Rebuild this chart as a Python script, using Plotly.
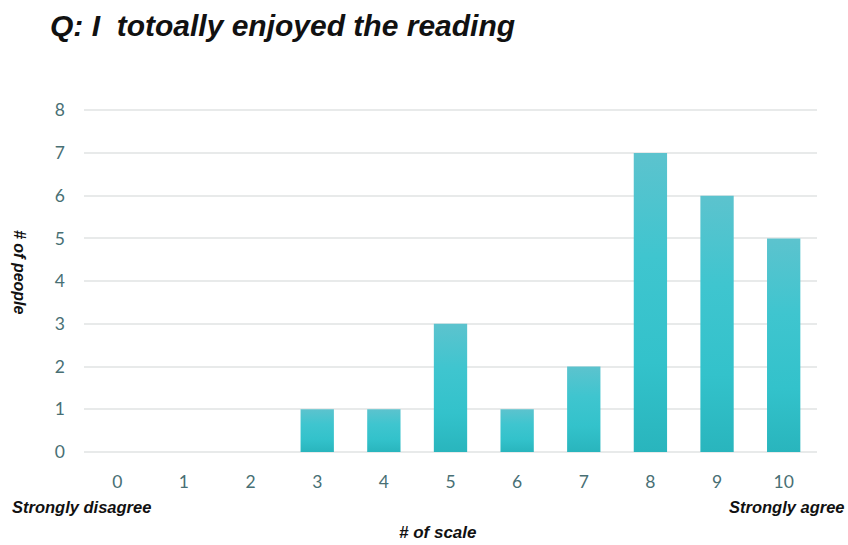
import plotly.graph_objects as go

# Survey responses: number of people choosing each point on the 0-10 scale
scale_points = [0, 1, 2, 3, 4, 5, 6, 7, 8, 9, 10]
people_counts = [0, 0, 0, 1, 1, 3, 1, 2, 7, 6, 5]
y_ticks = [0, 1, 2, 3, 4, 5, 6, 7, 8]

title_text = "Q: I  totoally enjoyed the reading"
y_title = "# of people"
x_title = "# of scale"
left_end_label = "Strongly disagree"
right_end_label = "Strongly agree"

tick_color = "#486F74"
label_font = "Liberation Sans, Arial"

fig = go.Figure(
    go.Bar(
        x=scale_points,
        y=people_counts,
        width=0.5,
        marker=dict(color="#38C1CA", line=dict(width=0)),
        hoverinfo="x+y",
    )
)

fig.update_layout(
    width=848,
    height=545,
    margin=dict(l=84, r=31, t=106, b=93),
    paper_bgcolor="white",
    plot_bgcolor="white",
    showlegend=False,
    title=dict(
        text=f"<b><i>{title_text}</i></b>",
        x=50 / 848,
        xanchor="left",
        y=1 - 25 / 545,
        yanchor="middle",
        font=dict(family="Liberation Sans, Arial", size=30, color="#111111"),
    ),
    xaxis=dict(
        tickmode="array",
        tickvals=scale_points,
        ticktext=[str(v) for v in scale_points],
        range=[-0.5, 10.5],
        showgrid=False,
        zeroline=False,
        showline=False,
        ticks="",
        ticklabelstandoff=17,
        tickfont=dict(family="Lato, Open Sans", size=17.5, color=tick_color),
    ),
    yaxis=dict(
        tickmode="array",
        tickvals=y_ticks,
        range=[0, 8.1],
        showgrid=True,
        gridcolor="#E8EAEA",
        gridwidth=2,
        zeroline=True,
        zerolinecolor="#E8EAEA",
        zerolinewidth=2,
        showline=False,
        ticks="",
        ticklabelstandoff=18,
        tickfont=dict(family="Lato, Open Sans", size=17.5, color=tick_color),
    ),
    annotations=[
        dict(
            text=f"<b><i>{y_title}</i></b>",
            xref="paper", yref="paper",
            x=(20 - 84) / 733, y=(452 - 272) / 346,
            xanchor="center", yanchor="middle",
            textangle=90,
            showarrow=False,
            font=dict(family=label_font, size=16, color="#111111"),
        ),
        dict(
            text=f"<b><i>{x_title}</i></b>",
            xref="paper", yref="paper",
            x=(438 - 84) / 733, y=-(532 - 452) / 346,
            xanchor="center", yanchor="middle",
            showarrow=False,
            font=dict(family=label_font, size=17, color="#111111"),
        ),
        dict(
            text=f"<b><i>{left_end_label}</i></b>",
            xref="paper", yref="paper",
            x=(10 - 84) / 733, y=-(507 - 452) / 346,
            xanchor="left", yanchor="middle",
            showarrow=False,
            font=dict(family=label_font, size=16.5, color="#111111"),
        ),
        dict(
            text=f"<b><i>{right_end_label}</i></b>",
            xref="paper", yref="paper",
            x=(847 - 84) / 733, y=-(507 - 452) / 346,
            xanchor="right", yanchor="middle",
            showarrow=False,
            font=dict(family=label_font, size=16.5, color="#111111"),
        ),
    ],
)

# Vertical teal gradient on each bar, applied to the rendered SVG
gradient_js = """
var gd = document.getElementById('{plot_id}');
var svg = gd.querySelector('svg.main-svg');
var ns = 'http://www.w3.org/2000/svg';
var defs = svg.querySelector('defs') || svg.insertBefore(document.createElementNS(ns, 'defs'), svg.firstChild);
var grad = document.createElementNS(ns, 'linearGradient');
grad.setAttribute('id', 'barGrad');
grad.setAttribute('x1', '0'); grad.setAttribute('y1', '0');
grad.setAttribute('x2', '0'); grad.setAttribute('y2', '1');
[['0', '#5CC3CE'], ['0.35', '#3FC5CF'], ['0.7', '#33C2CB'], ['1', '#29B5BD']].forEach(function (s) {
  var st = document.createElementNS(ns, 'stop');
  st.setAttribute('offset', s[0]);
  st.setAttribute('stop-color', s[1]);
  grad.appendChild(st);
});
defs.appendChild(grad);
gd.querySelectorAll('.bars .point path').forEach(function (p) {
  p.style.fill = 'url(#barGrad)';
});
"""

fig.write_html("out.html", post_script=gradient_js)
